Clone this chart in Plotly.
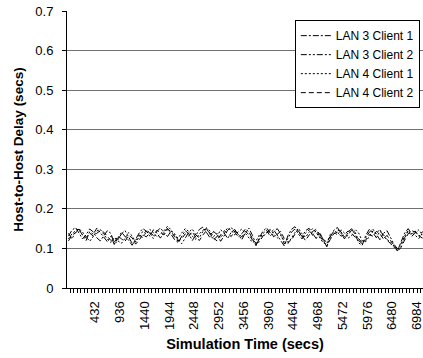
import plotly.graph_objects as go

tick_labels = [432, 936, 1440, 1944, 2448, 2952, 3456, 3960, 4464, 4968, 5472, 5976, 6480, 6984]
y_ticks = [0, 0.1, 0.2, 0.3, 0.4, 0.5, 0.6, 0.7]
y_tick_text = ["0", "0.1", "0.2", "0.3", "0.4", "0.5", "0.6", "0.7"]

lan3_client1 = [
    0.131, 0.146, 0.153, 0.139, 0.124, 0.135, 0.149, 0.142, 0.127, 0.119,
    0.133, 0.145, 0.138, 0.112, 0.126, 0.141, 0.130, 0.121, 0.108, 0.124,
    0.139, 0.150, 0.144, 0.131, 0.147, 0.138, 0.126, 0.142, 0.151, 0.136,
    0.122, 0.115, 0.130, 0.145, 0.137, 0.120, 0.133, 0.148, 0.154, 0.140,
    0.127, 0.143, 0.135, 0.118, 0.131, 0.146, 0.153, 0.141, 0.129, 0.137,
    0.149, 0.142, 0.126, 0.107, 0.128, 0.144, 0.152, 0.139, 0.147, 0.134,
    0.119, 0.106, 0.132, 0.148, 0.155, 0.143, 0.130, 0.145, 0.151, 0.138,
    0.125, 0.140, 0.122, 0.104, 0.129, 0.146, 0.153, 0.137, 0.124, 0.141,
    0.150, 0.136, 0.114, 0.108, 0.133, 0.148, 0.140, 0.127, 0.143, 0.135,
    0.121, 0.112, 0.103, 0.094, 0.117, 0.139, 0.150, 0.136, 0.144, 0.131,
    0.142, 0.137, 0.145,
]
lan3_client2 = [
    0.138, 0.124, 0.141, 0.149, 0.133, 0.120, 0.142, 0.136, 0.151, 0.139,
    0.126, 0.117, 0.131, 0.109, 0.122, 0.137, 0.145, 0.128, 0.113, 0.119,
    0.134, 0.127, 0.146, 0.139, 0.125, 0.143, 0.152, 0.140, 0.130, 0.144,
    0.137, 0.121, 0.112, 0.126, 0.141, 0.149, 0.134, 0.127, 0.143, 0.150,
    0.136, 0.122, 0.130, 0.147, 0.139, 0.125, 0.141, 0.148, 0.135, 0.122,
    0.140, 0.151, 0.133, 0.110, 0.124, 0.138, 0.146, 0.131, 0.142, 0.150,
    0.137, 0.111, 0.125, 0.141, 0.149, 0.136, 0.124, 0.139, 0.147, 0.133,
    0.145, 0.131, 0.118, 0.107, 0.123, 0.138, 0.147, 0.142, 0.129, 0.134,
    0.146, 0.141, 0.120, 0.112, 0.127, 0.141, 0.149, 0.134, 0.122, 0.138,
    0.145, 0.128, 0.110, 0.099, 0.108, 0.127, 0.143, 0.131, 0.139, 0.147,
    0.135, 0.128, 0.140,
]
lan4_client1 = [
    0.124, 0.137, 0.145, 0.150, 0.141, 0.128, 0.118, 0.130, 0.144, 0.148,
    0.135, 0.123, 0.115, 0.128, 0.119, 0.113, 0.126, 0.140, 0.132, 0.116,
    0.128, 0.143, 0.136, 0.148, 0.140, 0.129, 0.137, 0.145, 0.156, 0.147,
    0.133, 0.126, 0.139, 0.150, 0.143, 0.131, 0.123, 0.137, 0.146, 0.152,
    0.144, 0.130, 0.138, 0.127, 0.140, 0.152, 0.146, 0.134, 0.142, 0.149,
    0.138, 0.127, 0.115, 0.119, 0.135, 0.129, 0.141, 0.148, 0.136, 0.126,
    0.133, 0.118, 0.112, 0.127, 0.140, 0.151, 0.137, 0.128, 0.141, 0.150,
    0.140, 0.127, 0.114, 0.111, 0.136, 0.142, 0.134, 0.147, 0.139, 0.126,
    0.132, 0.148, 0.139, 0.119, 0.117, 0.130, 0.144, 0.138, 0.148, 0.130,
    0.124, 0.116, 0.106, 0.100, 0.112, 0.132, 0.146, 0.140, 0.133, 0.125,
    0.138, 0.146, 0.134,
]
lan4_client2 = [
    0.119, 0.133, 0.140, 0.146, 0.135, 0.127, 0.139, 0.131, 0.138, 0.145,
    0.141, 0.129, 0.120, 0.116, 0.131, 0.124, 0.118, 0.133, 0.127, 0.111,
    0.121, 0.135, 0.129, 0.140, 0.133, 0.146, 0.141, 0.134, 0.148, 0.143,
    0.129, 0.118, 0.124, 0.137, 0.131, 0.142, 0.128, 0.120, 0.134, 0.145,
    0.139, 0.126, 0.119, 0.134, 0.145, 0.138, 0.130, 0.144, 0.136, 0.129,
    0.143, 0.135, 0.121, 0.113, 0.117, 0.132, 0.139, 0.145, 0.129, 0.137,
    0.143, 0.124, 0.116, 0.121, 0.136, 0.144, 0.132, 0.120, 0.134, 0.143,
    0.148, 0.136, 0.123, 0.116, 0.131, 0.137, 0.141, 0.131, 0.135, 0.144,
    0.139, 0.128, 0.125, 0.114, 0.121, 0.135, 0.131, 0.143, 0.137, 0.124,
    0.133, 0.120, 0.108, 0.092, 0.103, 0.121, 0.137, 0.145, 0.141, 0.132,
    0.126, 0.139, 0.144,
]
# sample times (secs), 72 s apart
times = [-108 + 72 * i for i in range(len(lan3_client1))]

series = [
    ("LAN 3 Client 1", lan3_client1, "6px,2px,2px,2px"),
    ("LAN 3 Client 2", lan3_client2, "6px,2px,2px,2px,2px,2px"),
    ("LAN 4 Client 1", lan4_client1, "2px,2px"),
    ("LAN 4 Client 2", lan4_client2, "5px,3px"),
]

FONT = "Liberation Sans, Arial, sans-serif"

fig = go.Figure()
for name, vals, dash in series:
    fig.add_trace(go.Scatter(
        x=times, y=vals, mode="lines", name=name,
        line=dict(color="black", width=1, dash=dash),
    ))

fig.update_layout(
    width=423, height=358,
    margin=dict(l=67, r=0, t=11, b=70),
    paper_bgcolor="white", plot_bgcolor="white",
    font=dict(family=FONT, size=13, color="black"),
    showlegend=True,
    legend=dict(
        x=0.64, y=0.967, xanchor="left", yanchor="top",
        bgcolor="white", bordercolor="black", borderwidth=1,
        font=dict(family=FONT, size=12, color="black"),
        tracegroupgap=0,
    ),
)
fig.update_xaxes(
    range=[-137, 7105],
    tickmode="array", tickvals=tick_labels, ticktext=[str(t) for t in tick_labels],
    tickangle=-90, ticks="", showgrid=False,
    ticklabelstandoff=7, ticklabeloverflow="allow",
    showline=True, linecolor="black", linewidth=1,
    minor=dict(tickmode="linear", tick0=-144, dtick=72, ticks="outside",
               ticklen=4, tickcolor="black", tickwidth=1, showgrid=False),
    tickfont=dict(size=13),
    title=dict(text="Simulation Time (secs)", font=dict(size=14.5, weight="bold"), standoff=9),
    zeroline=False,
)
fig.update_yaxes(
    range=[0, 0.7],
    tickmode="array", tickvals=y_ticks, ticktext=y_tick_text,
    ticks="outside", ticklen=4, tickcolor="black",
    ticklabelstandoff=6,
    showgrid=True, gridcolor="#707070", gridwidth=1,
    showline=True, linecolor="black", linewidth=1,
    tickfont=dict(size=13),
    title=dict(text="Host-to-Host Delay (secs)", font=dict(size=13.5, weight="bold"), standoff=8),
    zeroline=False,
)

fig.write_html("out.html")
